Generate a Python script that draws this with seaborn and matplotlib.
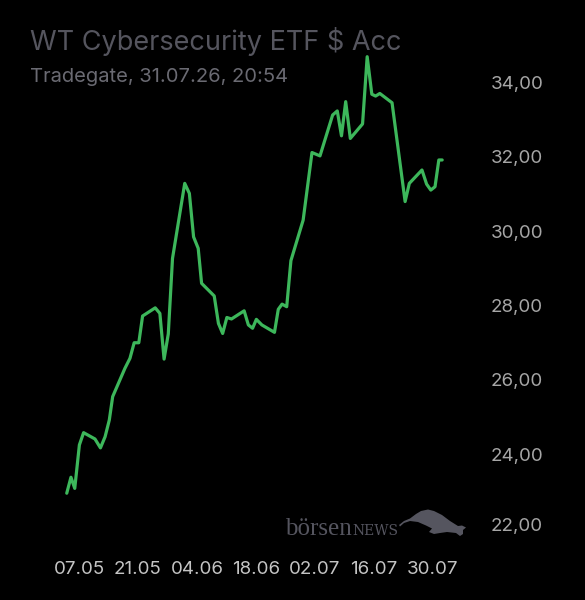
import numpy as np
import pandas as pd
import matplotlib
matplotlib.use("Agg")
import matplotlib.pyplot as plt
from matplotlib.patches import Polygon
import seaborn as sns

# days after 07.05
days = [-2.9, -1.9, -1.0, 0.1, 1.1, 3.8, 5.1, 6.2, 7.2, 8.0, 10.9, 12.1, 13.1, 14.2,
        15.1, 18.1, 19.2, 20.2, 21.2, 22.2, 25.1, 26.2, 27.2, 28.3, 29.1, 32.1, 33.1,
        34.1, 35.1, 36.2, 39.2, 40.2, 41.2, 42.1, 43.4, 46.4, 47.3, 48.2, 49.3, 50.3,
        53.2, 55.3, 57.2, 60.2, 61.3, 62.3, 63.3, 64.4, 67.3, 68.4, 69.5, 70.4, 71.4,
        74.3, 77.4, 78.4, 81.4, 82.5, 83.5, 84.5, 85.4, 86.2]
price = [22.95, 23.38, 23.08, 24.25, 24.58, 24.41, 24.17, 24.47, 24.92, 25.55, 26.31,
         26.58, 27.00, 27.00, 27.72, 27.94, 27.79, 26.56, 27.24, 29.27, 31.29, 31.02,
         29.85, 29.54, 28.60, 28.26, 27.52, 27.25, 27.68, 27.64, 27.86, 27.48, 27.39,
         27.63, 27.48, 27.28, 27.90, 28.04, 27.97, 29.21, 30.30, 32.12, 32.03, 33.13,
         33.24, 32.57, 33.49, 32.50, 32.89, 34.70, 33.69, 33.64, 33.71, 33.46, 30.80,
         31.29, 31.65, 31.27, 31.11, 31.20, 31.92, 31.92]

xtick_days = [0, 14, 28, 42, 56, 70, 84]
xtick_labels = ["07.05", "21.05", "04.06", "18.06", "02.07", "16.07", "30.07"]
ytick_vals = [22.1, 24, 26, 28, 30, 32, 34]
ytick_labels = ["22,00", "24,00", "26,00", "28,00", "30,00", "32,00", "34,00"]

df = pd.DataFrame({"day": days, "price": price})

sns.set_style("dark")
plt.rcParams["font.family"] = ["Inter", "DejaVu Sans"]

fig = plt.figure(figsize=(5.85, 6), dpi=100, facecolor="black")
ax = fig.add_axes([60 / 585, 1 - 530 / 600, 410 / 585, 480 / 600])
ax.set_facecolor("black")

sns.lineplot(data=df, x="day", y="price", ax=ax, color="#3db75b", linewidth=2.3)

ax.set_xlim(-4.5, 92.8)
ax.set_ylim(21.96, 34.88)
ax.grid(False)
for s in ax.spines.values():
    s.set_visible(False)

ax.yaxis.tick_right()
ax.set_yticks(ytick_vals)
ax.set_yticklabels(ytick_labels)
ax.set_xticks(xtick_days)
ax.set_xticklabels(xtick_labels)
ax.tick_params(axis="y", length=0, pad=15, labelsize=13.5, colors="#a6a6a6")
ax.tick_params(axis="x", length=0, pad=22, labelsize=13.5, colors="#c4c4c4")
ax.set_xlabel("")
ax.set_ylabel("")

fig.text(30 / 585, 1 - 50 / 600, "WT Cybersecurity ETF $ Acc", color="#55555e",
         fontsize=19.5, va="baseline", ha="left")
fig.text(30 / 585, 1 - 82 / 600, "Tradegate, 31.07.26, 20:54", color="#6a6a72",
         fontsize=14.5, va="baseline", ha="left")

# watermark
wm = "#55555f"
fig.text(285 / 585, 1 - 535 / 600, "börsen", color=wm, fontsize=18,
         family=["Liberation Serif", "DejaVu Serif"], va="baseline", ha="left")
fig.text(352 / 585, 1 - 535 / 600, "NEWS", color=wm, fontsize=10,
         family=["DejaVu Serif"], va="baseline", ha="left")
bull = [(399, 525), (404, 521), (410, 518.5), (416, 514), (421, 511), (428, 509.5),
        (434, 511), (442, 515), (450, 521), (458, 526), (462, 525.5), (466, 527.5),
        (463, 530), (463, 534), (460, 536), (456, 533), (447, 532), (440, 533),
        (434, 534), (429, 532), (432, 528.5), (426, 525.5), (418, 522), (410, 521),
        (404, 523), (400, 526.5)]
fig.patches.append(Polygon([(px / 585, 1 - py / 600) for px, py in bull],
                           closed=True, facecolor=wm, edgecolor="none",
                           transform=fig.transFigure, figure=fig))

fig.savefig("out.png", dpi=100, facecolor="black")
